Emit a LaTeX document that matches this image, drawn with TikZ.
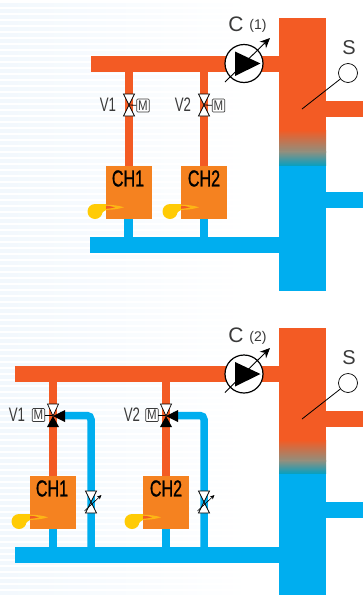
\documentclass[tikz,border=0pt]{standalone}
\usepackage{fontspec}
\setmainfont{Liberation Sans}
\newfontfamily\chfont[FakeBold=1.2]{Liberation Sans}
\usetikzlibrary{arrows.meta,calc}
\definecolor{hot}{HTML}{F35B24}
\definecolor{cold}{HTML}{00AEEF}
\definecolor{mixa}{HTML}{8E9080}
\definecolor{mixb}{HTML}{0A9FBE}
\definecolor{boiler}{HTML}{F58220}
\definecolor{burn}{HTML}{FFCB05}
\definecolor{flame}{HTML}{FDB515}
\definecolor{stripe}{HTML}{F2F8FD}
\definecolor{ink}{HTML}{3A3A3A}
\tikzset{
  hotpipe/.style={fill=hot,draw=none},
  coldpipe/.style={fill=cold,draw=none},
  boilerbox/.style={fill=boiler,draw=none,minimum width=46pt,minimum height=53pt,inner sep=0pt},
  label/.style={text=ink,inner sep=0pt,font=\fontsize{#1}{#1}\selectfont},
  narrowlabel/.style={text=ink,inner sep=0pt,font=\fontsize{19.5}{19.5}\selectfont,xscale=.68,transform shape},
  chlabel/.style={text=black,inner sep=0pt,font=\chfont\fontsize{23}{23}\selectfont,xscale=.7,transform shape},
  motorbox/.style={draw=ink,fill=white,line width=.7pt,rounded corners=1pt,minimum width=12.5pt,minimum height=13pt,inner sep=0pt},
  motortext/.style={text=ink,inner sep=0pt,font=\fontsize{14}{14}\selectfont,xscale=.82,transform shape},
  pumpcircle/.style={circle,draw=black,fill=white,line width=1.2pt,minimum size=38pt,inner sep=0pt},
  sensor/.style={circle,draw=black,fill=white,line width=.7pt,minimum size=19pt,inner sep=0pt},
  thin line/.style={draw=black,line width=.8pt},
  ctrl/.style={draw=black,line width=.9pt,-{Stealth[length=10pt,width=9pt]}},
  ctrlsmall/.style={draw=black,line width=.6pt,-{Stealth[length=4.5pt,width=4pt]}},
  vbody/.style={draw=black,fill=white,line width=.7pt,line join=miter},
}
\newcommand\burnerunit[2]{% x = box left edge, y = box bottom
  \begin{scope}[shift={(#1,#2)}]
    \fill[burn] (-11,-7.5) circle[radius=7.5];
    \fill[burn] (-11,-15) -- (0,-15) -- (0,-9) .. controls (-3,-8) and (-4,-6) .. (-5,-4) -- (-11,-7.5) -- cycle;
    \fill[flame] (0,-14.2) .. controls (8,-14.2) and (13,-13.2) .. (18,-11.7) .. controls (13,-10.2) and (8,-9.2) .. (0,-9.2) -- cycle;
    \fill[hot] (0,-13.2) .. controls (3,-13.2) and (6,-12.5) .. (9,-11.7) .. controls (6,-10.9) and (3,-10.2) .. (0,-10.2) -- cycle;
  \end{scope}}
\newcommand\tievertical[2]{% open two-way valve body
  \draw[vbody] (#1-5.5,#2-11) -- (#1+5.5,#2-11) -- (#1-5.5,#2+11) -- (#1+5.5,#2+11) -- cycle;}
\begin{document}
\begin{tikzpicture}[x=1pt,y=-1pt]
\useasboundingbox (0,0) rectangle (363,595);
\fill[white] (0,0) rectangle (363,595);
% faint background stripes
\foreach \yy in {3,9,...,591}{
  \shade[left color=stripe,right color=white,draw=none] (0,\yy) rectangle (250,\yy+3);
}
% ===== TOP =====
\fill[hotpipe] (279,18) rectangle (326,131);
\fill[coldpipe] (279,165) rectangle (326,291);
\fill[hotpipe] (326,101) rectangle (363,117);
\fill[coldpipe] (326,192) rectangle (363,208);
\shade[top color=hot,bottom color=mixa,draw=none] (279,130) rectangle (326,152);
\shade[top color=mixa,bottom color=mixb,draw=none] (279,151.8) rectangle (326,165.2);
\fill[hotpipe] (91,56) rectangle (279,72);
\fill[coldpipe] (90,237) rectangle (279,253);
\fill[hotpipe] (125,72) rectangle (133,166);
\fill[hotpipe] (200,72) rectangle (208,166);
\fill[coldpipe] (124,219) rectangle (133,238);
\fill[coldpipe] (200,219) rectangle (208,238);
\node[boilerbox] (ch1a) at (129,192.5) {};
\node[boilerbox] (ch2a) at (204,192.5) {};
\node[chlabel] (t1a) at (128,178.5) {CH1};
\node[chlabel] (t2a) at (204,178.5) {CH2};
\burnerunit{106}{219}
\burnerunit{181}{219}
\coordinate (v1a) at (129,105);
\coordinate (v2a) at (204,105);
\node[motorbox] (m1a) at (143,105.5) {};
\node[motorbox] (m2a) at (218.5,105.5) {};
\draw[thin line] (v1a) -- (m1a);
\draw[thin line] (v2a) -- (m2a);
\node[motortext] (mt1a) at (143,105.5) {M};
\node[motortext] (mt2a) at (218.5,105.5) {M};
\tievertical{129}{105}
\tievertical{204}{105}
\node[narrowlabel] (lv1a) at (108,105) {V1};
\node[narrowlabel] (lv2a) at (183,105) {V2};
\node[pumpcircle] (pa) at (244,63.5) {};
\fill[black] (235,51.5) -- (260.5,63.5) -- (235,76) -- cycle;
\coordinate (pas) at (225,82);
\coordinate (pae) at (270,38);
\draw[ctrl] (pas) -- (pae);
\node[label=21] (ca) at (236,24) {C};
\node[label=14] (c1a) at (258,26) {(1)};
\node[sensor] (sa) at (348,73) {};
\coordinate (sae) at (302,109);
\draw[thin line] (sa) -- (sae);
\node[label=20] (lsa) at (349,48) {S};
% ===== BOTTOM =====
\fill[hotpipe] (279,328) rectangle (326,441);
\fill[coldpipe] (279,473) rectangle (326,595);
\fill[hotpipe] (326,411) rectangle (363,427);
\fill[coldpipe] (326,502) rectangle (363,518);
\shade[top color=hot,bottom color=mixa,draw=none] (279,440) rectangle (326,461);
\shade[top color=mixa,bottom color=mixb,draw=none] (279,460.8) rectangle (326,473.2);
\fill[hotpipe] (15,366) rectangle (279,382);
\fill[coldpipe] (15,547) rectangle (279,563);
\fill[hotpipe] (49,382) rectangle (57,476);
\fill[hotpipe] (162,382) rectangle (170,476);
\fill[coldpipe] (49,529) rectangle (57,547);
\fill[coldpipe] (162,529) rectangle (170,547);
\draw[cold,line width=7.5pt,rounded corners=4pt] (60,415.5) -- (91,415.5) -- (91,548);
\draw[cold,line width=7.5pt,rounded corners=4pt] (173,415.5) -- (204,415.5) -- (204,548);
\node[boilerbox] (ch1b) at (53,502.5) {};
\node[boilerbox] (ch2b) at (166,502.5) {};
\node[chlabel] (t1b) at (52,488.5) {CH1};
\node[chlabel] (t2b) at (166,488.5) {CH2};
\burnerunit{30}{529}
\burnerunit{143}{529}
% three-way valves
\node[motorbox] (m1b) at (38.5,415) {};
\node[motorbox] (m2b) at (152,415) {};
\node[motortext] (mt1b) at (38.5,415) {M};
\node[motortext] (mt2b) at (152,415) {M};
\foreach \vx/\nm in {53/1,166/2}{
  \draw[thin line] (\vx-8,415.5) -- (\vx,415.5);
  \fill[black] (\vx,416) -- (\vx-6,427) -- (\vx+6,427) -- cycle;
  \fill[black] (\vx,416) -- (\vx+12,410) -- (\vx+12,422) -- cycle;
  \draw[vbody] (\vx,416) -- (\vx-5.5,404) -- (\vx+5.5,404) -- cycle;
}
\node[narrowlabel] (lv1b) at (17,415) {V1};
\node[narrowlabel] (lv2b) at (132,415) {V2};
% balancing valves
\tievertical{91}{502}
\tievertical{204}{502}
\coordinate (b1s) at (84.5,511);
\coordinate (b1e) at (101.5,495);
\coordinate (b2s) at (197.5,511);
\coordinate (b2e) at (214.5,495);
\draw[ctrlsmall] (b1s) -- (b1e);
\draw[ctrlsmall] (b2s) -- (b2e);
\node[pumpcircle] (pb) at (244,374) {};
\fill[black] (235,362) -- (260.5,374) -- (235,386.5) -- cycle;
\coordinate (pbs) at (225,392.5);
\coordinate (pbe) at (270,348);
\draw[ctrl] (pbs) -- (pbe);
\node[label=21] (cb) at (236,335) {C};
\node[label=14] (c2b) at (258,338) {(2)};
\node[sensor] (sb) at (348,383) {};
\coordinate (sbe) at (302,419);
\draw[thin line] (sb) -- (sbe);
\node[label=20] (lsb) at (349,358) {S};
\end{tikzpicture}
\end{document}
